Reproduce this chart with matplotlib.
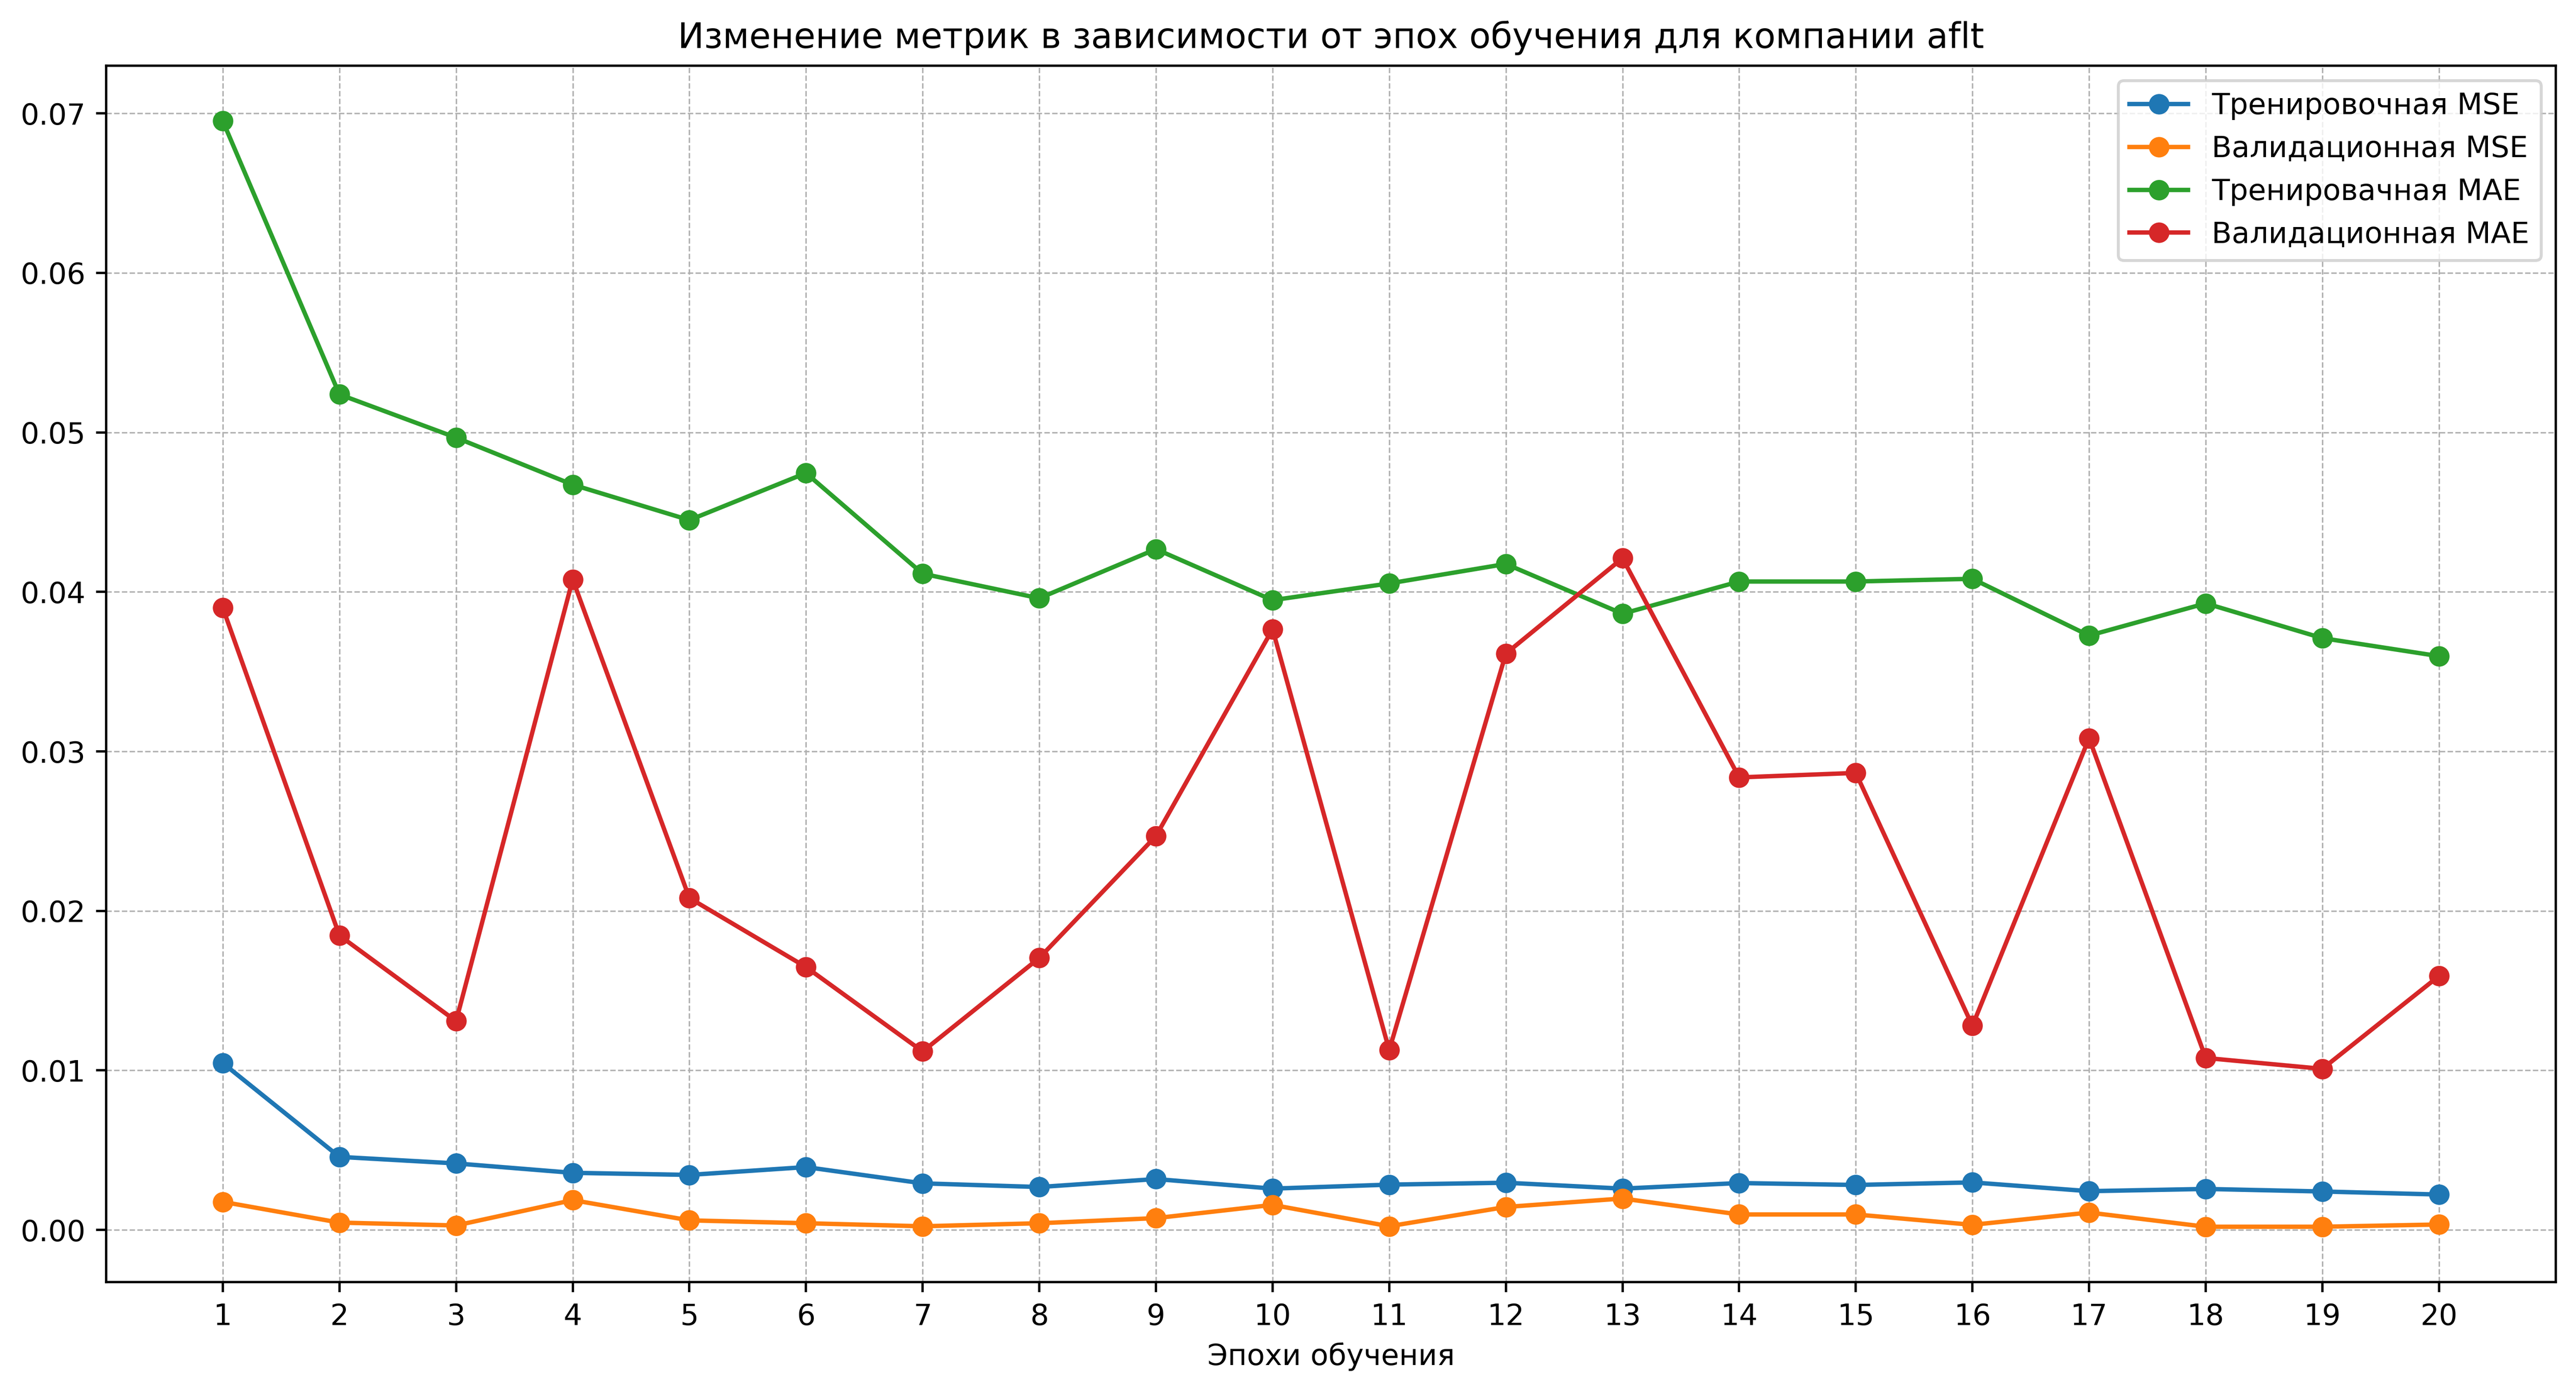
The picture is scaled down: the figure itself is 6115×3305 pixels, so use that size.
import matplotlib
matplotlib.use("Agg")
import matplotlib.pyplot as plt

epochs = list(range(1, 21))

train_mse = [0.01046, 0.00458, 0.00417, 0.00358, 0.00345, 0.00394, 0.00292, 0.00269, 0.00319, 0.00259,
             0.00284, 0.00296, 0.00259, 0.00294, 0.00282, 0.00298, 0.00243, 0.00257, 0.00241, 0.00222]
val_mse = [0.00176, 0.00046, 0.00028, 0.00187, 0.00060, 0.00042, 0.00023, 0.00042, 0.00074, 0.00157,
           0.00023, 0.00144, 0.00197, 0.00097, 0.00097, 0.00032, 0.00109, 0.00020, 0.00020, 0.00034]
train_mae = [0.06952, 0.05238, 0.04967, 0.04672, 0.04450, 0.04745, 0.04114, 0.03960, 0.04268, 0.03948,
             0.04053, 0.04175, 0.03863, 0.04065, 0.04065, 0.04082, 0.03726, 0.03928, 0.03710, 0.03597]
val_mae = [0.03900, 0.01846, 0.01309, 0.04078, 0.02081, 0.01648, 0.01119, 0.01705, 0.02469, 0.03766,
           0.01127, 0.03613, 0.04211, 0.02837, 0.02865, 0.01280, 0.03083, 0.01078, 0.01010, 0.01592]

labels = ["Тренировочная MSE", "Валидационная MSE", "Тренировачная MAE", "Валидационная MAE"]
title = "Изменение метрик в зависимости от эпох обучения для компании aflt"
xlabel = "Эпохи обучения"

DPI = 500
fig = plt.figure(figsize=(6115 / DPI, 3305 / DPI), dpi=DPI)
ax = fig.add_axes([0.0412, 0.0790, 0.9921 - 0.0412, 0.9528 - 0.0790])

ax.plot(epochs, train_mse, marker="o", label=labels[0])
ax.plot(epochs, val_mse, marker="o", label=labels[1])
ax.plot(epochs, train_mae, marker="o", label=labels[2])
ax.plot(epochs, val_mae, marker="o", label=labels[3])

ax.set_title(title)
ax.set_xlabel(xlabel)
ax.set_xticks(epochs)
ax.set_xlim(0, 21)
ax.grid(True, linestyle="--", linewidth=0.5)
ax.legend(loc="upper right")

fig.savefig("out.png", dpi=DPI)
